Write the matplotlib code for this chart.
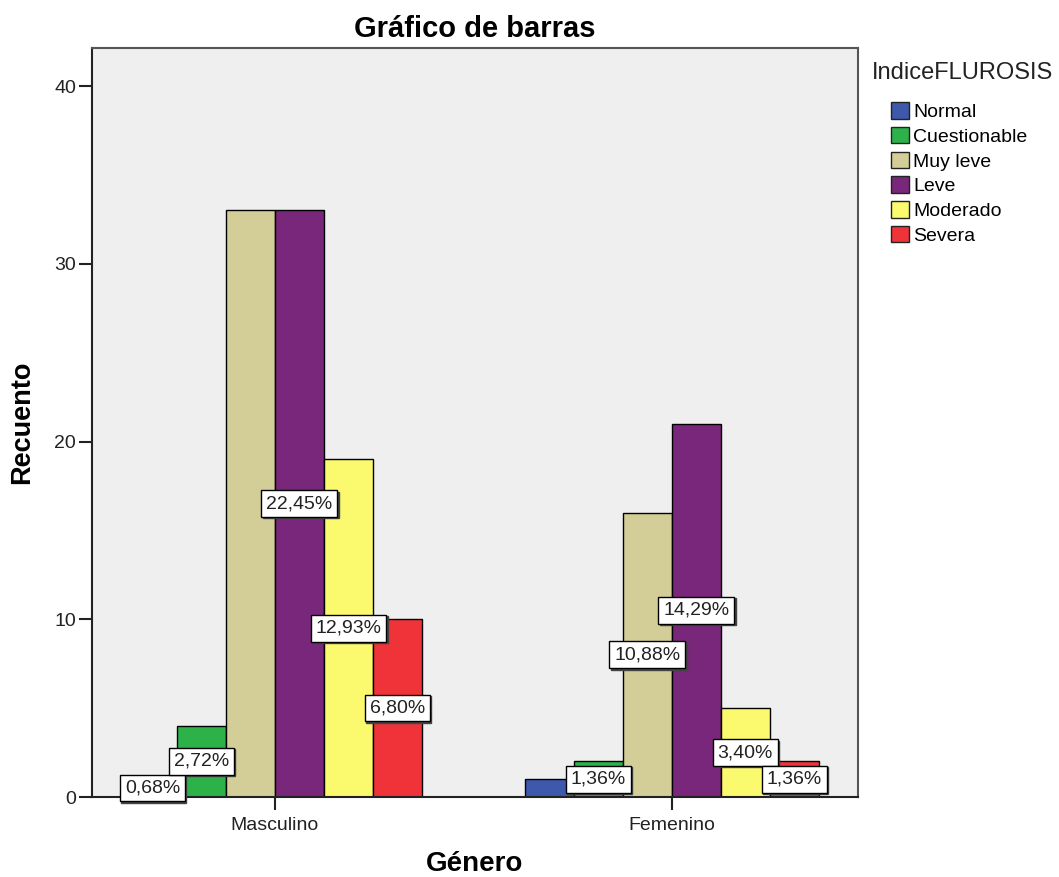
import matplotlib
matplotlib.use("Agg")
import matplotlib.pyplot as plt
import numpy as np

plt.rcParams['font.family'] = ['Liberation Sans', 'DejaVu Sans']

# data
generos = ['Masculino', 'Femenino']
niveles = ['Normal', 'Cuestionable', 'Muy leve', 'Leve', 'Moderado', 'Severa']
colores = ['#3E58AC', '#2DB24A', '#D3CE97', '#79277B', '#FBF96D', '#EF3339']

recuento_masc = [1, 4, 33, 33, 19, 10]
recuento_fem = [1, 2, 16, 21, 5, 2]

# percentage labels as shown (None = label hidden in the original)
etiq_masc = ['0,68%', '2,72%', None, '22,45%', '12,93%', '6,80%']
etiq_fem = [None, '1,36%', '10,88%', '14,29%', '3,40%', '1,36%']

fig = plt.figure(figsize=(10.59, 8.77), dpi=100)
ax = fig.add_axes([92/1059, (877-797)/877, (858-92)/1059, (797-48)/877])
ax.set_facecolor('#EFEFEF')

x = np.arange(len(generos))
w = 0.1234
recuentos = [recuento_masc, recuento_fem]
etiquetas = [etiq_masc, etiq_fem]

for j, nivel in enumerate(niveles):
    vals = [recuentos[g][j] for g in range(len(generos))]
    pos = x + (j - 2.5) * w
    ax.bar(pos, vals, width=w, color=colores[j], edgecolor='black', linewidth=1, label=nivel, zorder=2)

# labels in the middle of each bar, white box with a little shadow
for g in range(len(generos)):
    for j in range(len(niveles)):
        txt = etiquetas[g][j]
        if txt is None:
            continue
        px = x[g] + (j - 2.5) * w
        py = recuentos[g][j] / 2
        ax.annotate(txt, (px, py), xytext=(1, -1), textcoords='offset points',
                    ha='center', va='center', fontsize=14, color='none', zorder=3,
                    bbox=dict(boxstyle='square,pad=0.25', fc='#444444', ec='#444444', lw=1))
        ax.annotate(txt, (px, py), ha='center', va='center', fontsize=14, color='#222222', zorder=4,
                    bbox=dict(boxstyle='square,pad=0.25', fc='white', ec='black', lw=1))

ax.set_xlim(-0.461, 1.469)
ax.set_ylim(0, 42.14)
ax.set_xticks(x)
ax.set_xticklabels(generos)
ax.set_yticks([0, 10, 20, 30, 40])
ax.tick_params(axis='both', labelsize=14, length=9.5, width=1.5, direction='out', colors='#222222')
ax.tick_params(axis='y', pad=2)
ax.tick_params(axis='x', pad=5)

for s in ['left', 'bottom']:
    ax.spines[s].set_color('#222222')
    ax.spines[s].set_linewidth(1.5)
for s in ['top', 'right']:
    ax.spines[s].set_color('#555555')
    ax.spines[s].set_linewidth(1.5)

ax.set_title('Gráfico de barras', fontsize=21, fontweight='bold', pad=8)
ax.set_ylabel('Recuento', fontsize=19.5, fontweight='bold', labelpad=14)
ax.set_xlabel('Género', fontsize=20, fontweight='bold', labelpad=12)

# legend title sits left of the entries, as in the original
fig.text(872/1059, 1 - 73/877, 'IndiceFLUROSIS', fontsize=17, ha='left', va='center', color='#222222')
leg = ax.legend(loc='upper left', bbox_to_anchor=(891/1059, 1 - 102/877), bbox_transform=fig.transFigure,
                frameon=False, fontsize=14,
                handlelength=0.93, handleheight=0.93, handletextpad=0.2, labelspacing=0.3,
                borderpad=0, borderaxespad=0)
for h in leg.legend_handles:
    h.set_edgecolor('#222222')

fig.savefig('out.png', dpi=100)
